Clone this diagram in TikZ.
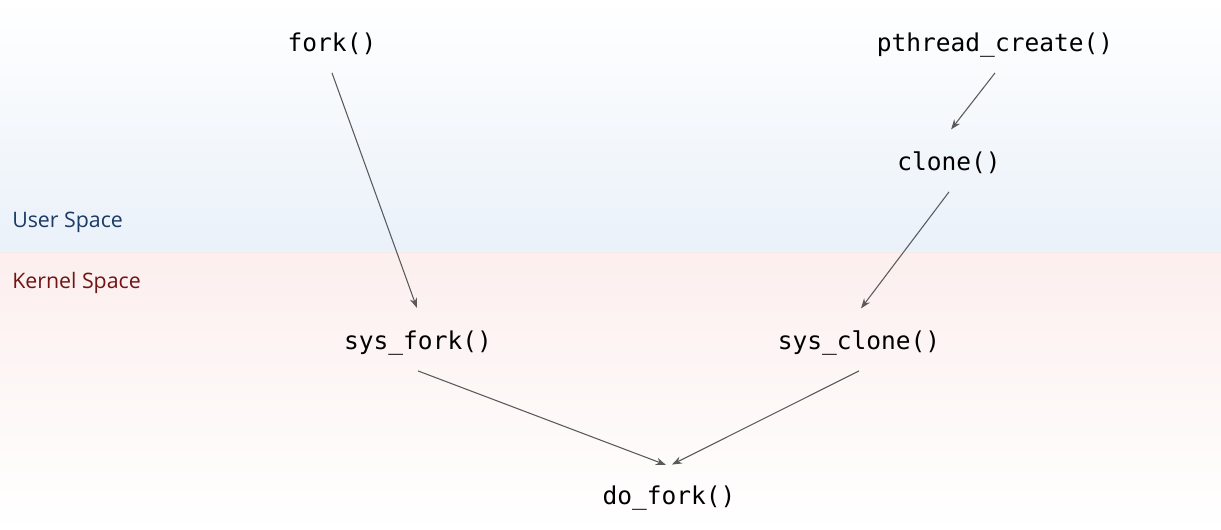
\documentclass[tikz,border=0pt]{standalone}
\usepackage{fontspec}
\setmainfont{Open Sans}
\setmonofont{DejaVu Sans Mono}
\usetikzlibrary{arrows.meta}

\definecolor{userbg}{HTML}{EAF1F9}
\definecolor{kernelbg}{HTML}{FCEFEE}
\definecolor{usertxt}{HTML}{1B3A66}
\definecolor{kerneltxt}{HTML}{701414}
\definecolor{callarrow}{HTML}{5A5A5A}

\begin{document}
\begin{tikzpicture}[
  x=0.75pt, y=-0.75pt,
  call/.style={
    font=\ttfamily\fontsize{18.4}{22}\selectfont,
    text height=15.3pt, text depth=2.2pt,
    inner xsep=0pt, inner ysep=13.5pt
  },
  space/.style={font=\fontsize{16}{19}\selectfont, anchor=west, inner sep=0pt},
  arr/.style={-{Stealth[length=7.5pt,width=5.5pt]}, callarrow, line width=0.8pt, shorten >=2.5pt},
]

\useasboundingbox (0,0) rectangle (1221,530);

% background bands
\shade[top color=white, bottom color=userbg] (0,0) rectangle (1221,252);
\shade[top color=kernelbg, bottom color=white] (0,252) rectangle (1221,530);
\draw[kernelbg!80!black!12!kernelbg, line width=0.6pt] (0,252) -- (1221,252);

\node[space, text=usertxt]   (userlbl)   at (12,222) {User Space};
\node[space, text=kerneltxt] (kernellbl) at (12,283) {Kernel Space};

% calls
\node[call] (fork)    at (332, 43)  {fork()};
\node[call] (pthread) at (995, 43)  {pthread\_create()};
\node[call] (clone)   at (949, 162) {clone()};
\node[call] (sysfork) at (418, 341) {sys\_fork()};
\node[call] (sysclone) at (859, 341) {sys\_clone()};
\node[call] (dofork)  at (669, 496) {do\_fork()};

\draw[arr] (fork.south) -- (sysfork.north);
\draw[arr] (pthread.south) -- (clone.north);
\draw[arr] (clone.south) -- (sysclone.north);
\draw[arr] (sysfork.south) -- (dofork.north);
\draw[arr] (sysclone.south) -- (dofork.north);

\end{tikzpicture}
\end{document}
